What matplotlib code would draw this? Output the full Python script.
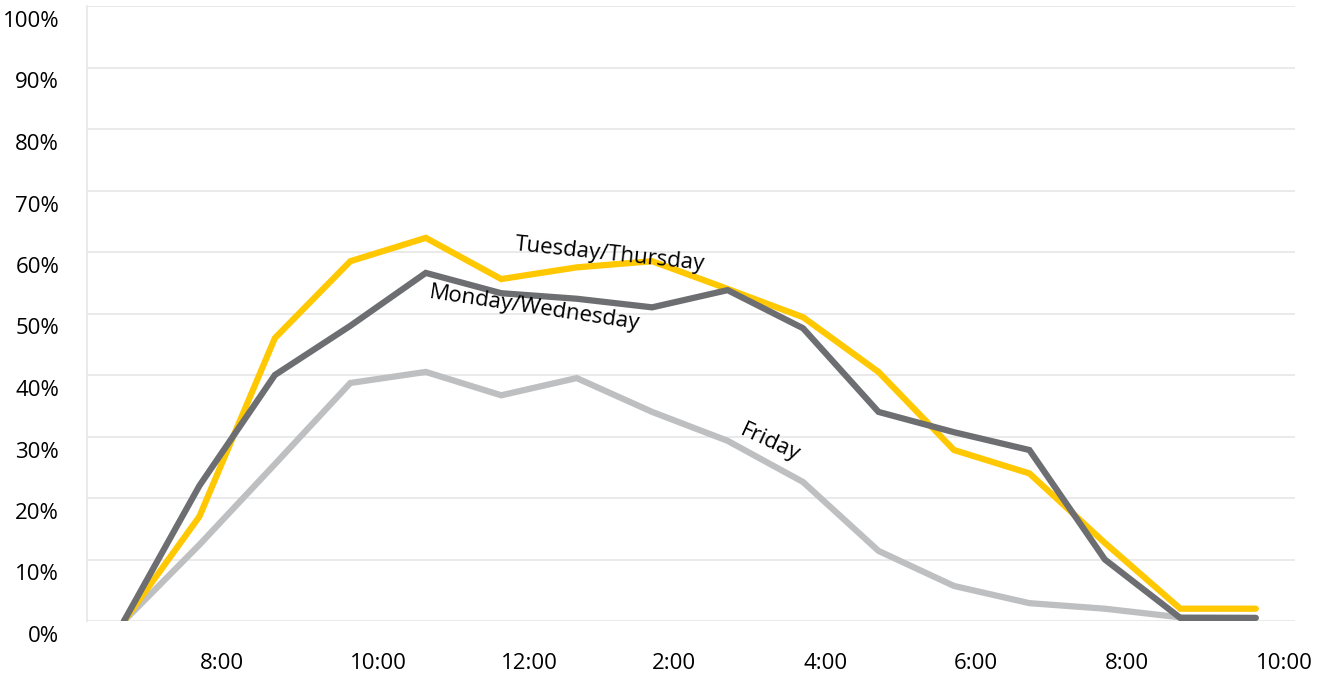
import numpy as np
import matplotlib.pyplot as plt
import matplotlib.transforms as mtransforms

# hours of the day (7 AM .. 10 PM), values are % of peak occupancy
hours = np.arange(7, 23)
tue_thu = [0, 17, 46, 58.5, 62.3, 55.6, 57.5, 58.5, 54, 49.4, 40.5, 27.8, 24, 12.7, 2, 2]
mon_wed = [0, 22, 40, 48, 56.6, 53.3, 52.4, 51, 53.8, 47.6, 34, 30.7, 27.8, 10, 0.5, 0.5]
friday = [0, 12.4, 25.5, 38.7, 40.5, 36.7, 39.5, 34, 29.3, 22.6, 11.4, 5.7, 2.9, 2, 0.6, 0.5]

tick_hours = [8, 10, 12, 14, 16, 18, 20, 22]
tick_labels = ['8:00', '10:00', '12:00', '2:00', '4:00', '6:00', '8:00', '10:00']

plt.rcParams['font.family'] = ['Open Sans', 'DejaVu Sans']

fig = plt.figure(figsize=(13.26, 6.8), dpi=100)
ax = fig.add_axes([87 / 1326, 1 - 621 / 680, (1295 - 87) / 1326, (621 - 6) / 680])

# lines: Friday underneath, then Tue/Thu, then Mon/Wed on top
ax.plot(hours, friday, color='#BEBFC1', lw=4.5, solid_capstyle='round', solid_joinstyle='miter', zorder=2)
ax.plot(hours, tue_thu, color='#FFC800', lw=4.5, solid_capstyle='round', solid_joinstyle='miter', zorder=3)
ax.plot(hours, mon_wed, color='#6D6E71', lw=4.5, solid_capstyle='round', solid_joinstyle='miter', zorder=4)

# series labels sitting along the lines
ax.text(13.44, 59.6, 'Tuesday/Thursday', rotation=-6, fontsize=16, ha='center', va='center', zorder=5)
ax.text(12.44, 50.9, 'Monday/Wednesday', rotation=-8.5, fontsize=16, ha='center', va='center', zorder=5)
ax.text(15.56, 28.9, 'Friday', rotation=-25, fontsize=16, ha='center', va='center', zorder=5)

ax.set_xlim(6.51, 22.52)
ax.set_ylim(0, 100)

ax.set_yticks(np.arange(0, 101, 10))
ax.set_yticklabels([f'{v}%' for v in range(0, 101, 10)], fontsize=16)
ax.set_xticks(tick_hours)
ax.set_xticklabels(tick_labels, fontsize=16, ha='left')
ax.tick_params(axis='both', length=0)
ax.tick_params(axis='y', pad=20)
ax.tick_params(axis='x', pad=23)

# y labels sit a little below their gridline in the original
shift = mtransforms.ScaledTranslation(0, -13 / 100, fig.dpi_scale_trans)
for lab in ax.get_yticklabels():
    lab.set_transform(lab.get_transform() + shift)

ax.grid(axis='y', color='#E6E6E6', lw=1.2, zorder=0)
ax.set_axisbelow(True)
for s in ['top', 'right', 'bottom']:
    ax.spines[s].set_visible(False)
ax.spines['left'].set_color('#E6E6E6')
ax.spines['left'].set_linewidth(1.2)

fig.savefig('out.png', dpi=100)
